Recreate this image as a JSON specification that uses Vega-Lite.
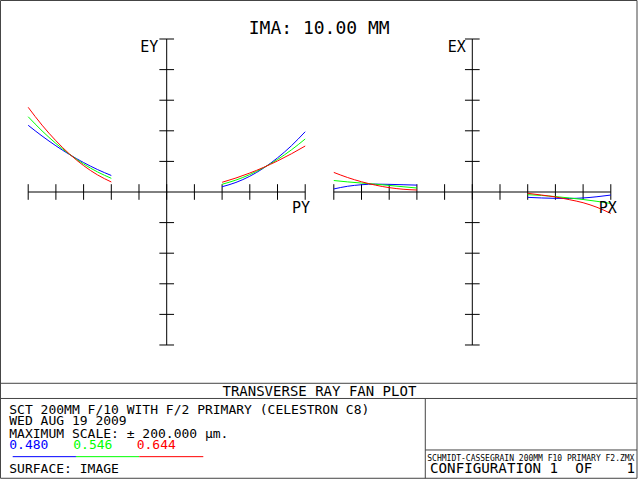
{
  "$schema": "https://vega.github.io/schema/vega-lite/v6.json",
  "width": 640,
  "height": 480,
  "padding": 0,
  "autosize": {"type": "none"},
  "background": "white",
  "config": {"view": {"stroke": null}},
  "datasets": {
    "fan": [
      {"panel": "EY", "seg": "L", "wl": "0.480", "p": -1.0, "e": 87.2},
      {"panel": "EY", "seg": "L", "wl": "0.480", "p": -0.9, "e": 73.2},
      {"panel": "EY", "seg": "L", "wl": "0.480", "p": -0.8, "e": 60.4},
      {"panel": "EY", "seg": "L", "wl": "0.480", "p": -0.7, "e": 48.8},
      {"panel": "EY", "seg": "L", "wl": "0.480", "p": -0.6, "e": 38.5},
      {"panel": "EY", "seg": "L", "wl": "0.480", "p": -0.5, "e": 29.4},
      {"panel": "EY", "seg": "L", "wl": "0.480", "p": -0.4, "e": 21.6},
      {"panel": "EY", "seg": "R", "wl": "0.480", "p": 0.4, "e": 6.9},
      {"panel": "EY", "seg": "R", "wl": "0.480", "p": 0.5, "e": 12.5},
      {"panel": "EY", "seg": "R", "wl": "0.480", "p": 0.6, "e": 20.6},
      {"panel": "EY", "seg": "R", "wl": "0.480", "p": 0.7, "e": 31.3},
      {"panel": "EY", "seg": "R", "wl": "0.480", "p": 0.8, "e": 44.6},
      {"panel": "EY", "seg": "R", "wl": "0.480", "p": 0.9, "e": 60.4},
      {"panel": "EY", "seg": "R", "wl": "0.480", "p": 1.0, "e": 78.8},
      {"panel": "EY", "seg": "L", "wl": "0.546", "p": -1.0, "e": 98.4},
      {"panel": "EY", "seg": "L", "wl": "0.546", "p": -0.9, "e": 79.9},
      {"panel": "EY", "seg": "L", "wl": "0.546", "p": -0.8, "e": 63.5},
      {"panel": "EY", "seg": "L", "wl": "0.546", "p": -0.7, "e": 49.1},
      {"panel": "EY", "seg": "L", "wl": "0.546", "p": -0.6, "e": 36.6},
      {"panel": "EY", "seg": "L", "wl": "0.546", "p": -0.5, "e": 26.3},
      {"panel": "EY", "seg": "L", "wl": "0.546", "p": -0.4, "e": 17.9},
      {"panel": "EY", "seg": "R", "wl": "0.546", "p": 0.4, "e": 10.1},
      {"panel": "EY", "seg": "R", "wl": "0.546", "p": 0.5, "e": 15.6},
      {"panel": "EY", "seg": "R", "wl": "0.546", "p": 0.6, "e": 22.8},
      {"panel": "EY", "seg": "R", "wl": "0.546", "p": 0.7, "e": 31.8},
      {"panel": "EY", "seg": "R", "wl": "0.546", "p": 0.8, "e": 42.5},
      {"panel": "EY", "seg": "R", "wl": "0.546", "p": 0.9, "e": 55.0},
      {"panel": "EY", "seg": "R", "wl": "0.546", "p": 1.0, "e": 69.3},
      {"panel": "EY", "seg": "L", "wl": "0.644", "p": -1.0, "e": 110.7},
      {"panel": "EY", "seg": "L", "wl": "0.644", "p": -0.9, "e": 87.4},
      {"panel": "EY", "seg": "L", "wl": "0.644", "p": -0.8, "e": 67.0},
      {"panel": "EY", "seg": "L", "wl": "0.644", "p": -0.7, "e": 49.3},
      {"panel": "EY", "seg": "L", "wl": "0.644", "p": -0.6, "e": 34.5},
      {"panel": "EY", "seg": "L", "wl": "0.644", "p": -0.5, "e": 22.4},
      {"panel": "EY", "seg": "L", "wl": "0.644", "p": -0.4, "e": 13.1},
      {"panel": "EY", "seg": "R", "wl": "0.644", "p": 0.4, "e": 12.7},
      {"panel": "EY", "seg": "R", "wl": "0.644", "p": 0.5, "e": 18.3},
      {"panel": "EY", "seg": "R", "wl": "0.644", "p": 0.6, "e": 24.8},
      {"panel": "EY", "seg": "R", "wl": "0.644", "p": 0.7, "e": 32.2},
      {"panel": "EY", "seg": "R", "wl": "0.644", "p": 0.8, "e": 40.6},
      {"panel": "EY", "seg": "R", "wl": "0.644", "p": 0.9, "e": 49.9},
      {"panel": "EY", "seg": "R", "wl": "0.644", "p": 1.0, "e": 60.1},
      {"panel": "EX", "seg": "L", "wl": "0.480", "p": -1.0, "e": 4.0},
      {"panel": "EX", "seg": "L", "wl": "0.480", "p": -0.9, "e": 7.5},
      {"panel": "EX", "seg": "L", "wl": "0.480", "p": -0.8, "e": 9.5},
      {"panel": "EX", "seg": "L", "wl": "0.480", "p": -0.7, "e": 10.3},
      {"panel": "EX", "seg": "L", "wl": "0.480", "p": -0.6, "e": 10.0},
      {"panel": "EX", "seg": "L", "wl": "0.480", "p": -0.5, "e": 9.5},
      {"panel": "EX", "seg": "L", "wl": "0.480", "p": -0.4, "e": 9.0},
      {"panel": "EX", "seg": "R", "wl": "0.480", "p": 0.4, "e": -7.0},
      {"panel": "EX", "seg": "R", "wl": "0.480", "p": 0.5, "e": -7.8},
      {"panel": "EX", "seg": "R", "wl": "0.480", "p": 0.6, "e": -8.3},
      {"panel": "EX", "seg": "R", "wl": "0.480", "p": 0.7, "e": -8.4},
      {"panel": "EX", "seg": "R", "wl": "0.480", "p": 0.8, "e": -7.8},
      {"panel": "EX", "seg": "R", "wl": "0.480", "p": 0.9, "e": -6.2},
      {"panel": "EX", "seg": "R", "wl": "0.480", "p": 1.0, "e": -4.0},
      {"panel": "EX", "seg": "L", "wl": "0.546", "p": -1.0, "e": 15.0},
      {"panel": "EX", "seg": "L", "wl": "0.546", "p": -0.9, "e": 13.2},
      {"panel": "EX", "seg": "L", "wl": "0.546", "p": -0.8, "e": 11.7},
      {"panel": "EX", "seg": "L", "wl": "0.546", "p": -0.7, "e": 10.2},
      {"panel": "EX", "seg": "L", "wl": "0.546", "p": -0.6, "e": 8.6},
      {"panel": "EX", "seg": "L", "wl": "0.546", "p": -0.5, "e": 6.9},
      {"panel": "EX", "seg": "L", "wl": "0.546", "p": -0.4, "e": 5.2},
      {"panel": "EX", "seg": "R", "wl": "0.546", "p": 0.4, "e": -3.5},
      {"panel": "EX", "seg": "R", "wl": "0.546", "p": 0.5, "e": -4.5},
      {"panel": "EX", "seg": "R", "wl": "0.546", "p": 0.6, "e": -6.0},
      {"panel": "EX", "seg": "R", "wl": "0.546", "p": 0.7, "e": -7.8},
      {"panel": "EX", "seg": "R", "wl": "0.546", "p": 0.8, "e": -9.8},
      {"panel": "EX", "seg": "R", "wl": "0.546", "p": 0.9, "e": -12.2},
      {"panel": "EX", "seg": "R", "wl": "0.546", "p": 1.0, "e": -15.0},
      {"panel": "EX", "seg": "L", "wl": "0.644", "p": -1.0, "e": 25.6},
      {"panel": "EX", "seg": "L", "wl": "0.644", "p": -0.9, "e": 18.9},
      {"panel": "EX", "seg": "L", "wl": "0.644", "p": -0.8, "e": 13.4},
      {"panel": "EX", "seg": "L", "wl": "0.644", "p": -0.7, "e": 9.0},
      {"panel": "EX", "seg": "L", "wl": "0.644", "p": -0.6, "e": 5.7},
      {"panel": "EX", "seg": "L", "wl": "0.644", "p": -0.5, "e": 3.6},
      {"panel": "EX", "seg": "L", "wl": "0.644", "p": -0.4, "e": 2.6},
      {"panel": "EX", "seg": "R", "wl": "0.644", "p": 0.4, "e": -1.7},
      {"panel": "EX", "seg": "R", "wl": "0.644", "p": 0.5, "e": -4.0},
      {"panel": "EX", "seg": "R", "wl": "0.644", "p": 0.6, "e": -6.5},
      {"panel": "EX", "seg": "R", "wl": "0.644", "p": 0.7, "e": -10.0},
      {"panel": "EX", "seg": "R", "wl": "0.644", "p": 0.8, "e": -14.0},
      {"panel": "EX", "seg": "R", "wl": "0.644", "p": 0.9, "e": -20.0},
      {"panel": "EX", "seg": "R", "wl": "0.644", "p": 1.0, "e": -28.0}
    ],
    "hticks": [
      {"t": -1.0}, {"t": -0.8}, {"t": -0.6}, {"t": -0.4}, {"t": -0.2}, {"t": 0.0},
      {"t": 0.2}, {"t": 0.4}, {"t": 0.6}, {"t": 0.8}, {"t": 1.0}
    ],
    "vticks": [
      {"v": -200}, {"v": -160}, {"v": -120}, {"v": -80}, {"v": -40},
      {"v": 40}, {"v": 80}, {"v": 120}, {"v": 160}, {"v": 200}
    ]
  },
  "resolve": {"scale": {"x": "independent"}},
  "layer": [
    {
      "data": {"values": [{}]},
      "mark": {"type": "rect", "fill": "white", "fillOpacity": 0, "stroke": "#444444", "strokeWidth": 1},
      "encoding": {
        "x": {"datum": -1.2, "type": "quantitative", "scale": {"domain": [-1.2036, 3.4173], "nice": false, "zero": false}, "axis": null},
        "x2": {"datum": 3.3957},
        "y": {"datum": 250.33, "type": "quantitative", "scale": {"domain": [-376.5, 251], "nice": false, "zero": false}, "axis": null},
        "y2": {"datum": -374.25}
      }
    },
    {
      "data": {"values": [{}]},
      "mark": {"type": "rule", "color": "#444444", "strokeWidth": 1},
      "encoding": {
        "x": {"datum": -1.2, "type": "quantitative", "scale": {"domain": [-1.2036, 3.4173], "nice": false, "zero": false}, "axis": null},
        "x2": {"datum": 3.3957},
        "y": {"datum": -250.07, "type": "quantitative", "scale": {"domain": [-376.5, 251], "nice": false, "zero": false}, "axis": null}
      }
    },
    {
      "data": {"values": [{}]},
      "mark": {"type": "rule", "color": "#444444", "strokeWidth": 1},
      "encoding": {
        "x": {"datum": -1.2, "type": "quantitative", "scale": {"domain": [-1.2036, 3.4173], "nice": false, "zero": false}, "axis": null},
        "x2": {"datum": 3.3957},
        "y": {"datum": -269.93, "type": "quantitative", "scale": {"domain": [-376.5, 251], "nice": false, "zero": false}, "axis": null}
      }
    },
    {
      "data": {"values": [{}]},
      "mark": {"type": "rule", "color": "#444444", "strokeWidth": 1},
      "encoding": {
        "x": {"datum": 1.8671, "type": "quantitative", "scale": {"domain": [-1.2036, 3.4173], "nice": false, "zero": false}, "axis": null},
        "y": {"datum": -269.93, "type": "quantitative", "scale": {"domain": [-376.5, 251], "nice": false, "zero": false}, "axis": null},
        "y2": {"datum": -374.25}
      }
    },
    {
      "data": {"values": [{}]},
      "mark": {"type": "rule", "color": "#444444", "strokeWidth": 1},
      "encoding": {
        "x": {"datum": 1.8671, "type": "quantitative", "scale": {"domain": [-1.2036, 3.4173], "nice": false, "zero": false}, "axis": null},
        "x2": {"datum": 3.3957},
        "y": {"datum": -337.25, "type": "quantitative", "scale": {"domain": [-376.5, 251], "nice": false, "zero": false}, "axis": null}
      }
    },
    {
      "data": {"values": [{}]},
      "mark": {"type": "rule", "color": "black", "strokeWidth": 1},
      "encoding": {
        "x": {"datum": -1, "type": "quantitative", "scale": {"domain": [-1.2036, 3.4173], "nice": false, "zero": false}, "axis": null},
        "x2": {"datum": 1},
        "y": {"datum": 0, "type": "quantitative", "scale": {"domain": [-376.5, 251], "nice": false, "zero": false}, "axis": null}
      }
    },
    {
      "data": {"values": [{}]},
      "mark": {"type": "rule", "color": "black", "strokeWidth": 1},
      "encoding": {
        "x": {"datum": 0, "type": "quantitative", "scale": {"domain": [-1.2036, 3.4173], "nice": false, "zero": false}, "axis": null},
        "y": {"datum": -200, "type": "quantitative", "scale": {"domain": [-376.5, 251], "nice": false, "zero": false}, "axis": null},
        "y2": {"datum": 200}
      }
    },
    {
      "data": {"name": "hticks"},
      "mark": {"type": "rule", "color": "black", "strokeWidth": 1},
      "encoding": {
        "x": {"field": "t", "type": "quantitative", "scale": {"domain": [-1.2036, 3.4173], "nice": false, "zero": false}, "axis": null},
        "y": {"datum": -10.2, "type": "quantitative", "scale": {"domain": [-376.5, 251], "nice": false, "zero": false}, "axis": null},
        "y2": {"datum": 10.2}
      }
    },
    {
      "data": {"name": "vticks"},
      "mark": {"type": "rule", "color": "black", "strokeWidth": 1},
      "encoding": {
        "x": {"datum": -0.053, "type": "quantitative", "scale": {"domain": [-1.2036, 3.4173], "nice": false, "zero": false}, "axis": null},
        "x2": {"datum": 0.053},
        "y": {"field": "v", "type": "quantitative", "scale": {"domain": [-376.5, 251], "nice": false, "zero": false}, "axis": null}
      }
    },
    {
      "data": {"values": [{}]},
      "mark": {"type": "rule", "color": "black", "strokeWidth": 1},
      "encoding": {
        "x": {"datum": -1, "type": "quantitative", "scale": {"domain": [-3.4101, 1.2108], "nice": false, "zero": false}, "axis": null},
        "x2": {"datum": 1},
        "y": {"datum": 0, "type": "quantitative", "scale": {"domain": [-376.5, 251], "nice": false, "zero": false}, "axis": null}
      }
    },
    {
      "data": {"values": [{}]},
      "mark": {"type": "rule", "color": "black", "strokeWidth": 1},
      "encoding": {
        "x": {"datum": 0, "type": "quantitative", "scale": {"domain": [-3.4101, 1.2108], "nice": false, "zero": false}, "axis": null},
        "y": {"datum": -200, "type": "quantitative", "scale": {"domain": [-376.5, 251], "nice": false, "zero": false}, "axis": null},
        "y2": {"datum": 200}
      }
    },
    {
      "data": {"name": "hticks"},
      "mark": {"type": "rule", "color": "black", "strokeWidth": 1},
      "encoding": {
        "x": {"field": "t", "type": "quantitative", "scale": {"domain": [-3.4101, 1.2108], "nice": false, "zero": false}, "axis": null},
        "y": {"datum": -10.2, "type": "quantitative", "scale": {"domain": [-376.5, 251], "nice": false, "zero": false}, "axis": null},
        "y2": {"datum": 10.2}
      }
    },
    {
      "data": {"name": "vticks"},
      "mark": {"type": "rule", "color": "black", "strokeWidth": 1},
      "encoding": {
        "x": {"datum": -0.053, "type": "quantitative", "scale": {"domain": [-3.4101, 1.2108], "nice": false, "zero": false}, "axis": null},
        "x2": {"datum": 0.053},
        "y": {"field": "v", "type": "quantitative", "scale": {"domain": [-376.5, 251], "nice": false, "zero": false}, "axis": null}
      }
    },
    {
      "data": {"name": "fan"},
      "transform": [{"filter": "datum.panel === 'EY'"}],
      "mark": {"type": "line", "strokeWidth": 1, "interpolate": "monotone"},
      "encoding": {
        "x": {"field": "p", "type": "quantitative", "scale": {"domain": [-1.2036, 3.4173], "nice": false, "zero": false}, "axis": null},
        "y": {"field": "e", "type": "quantitative", "scale": {"domain": [-376.5, 251], "nice": false, "zero": false}, "axis": null},
        "color": {"field": "wl", "type": "nominal", "scale": {"domain": ["0.480", "0.546", "0.644"], "range": ["#0000ff", "#00ff00", "#ff0000"]}, "legend": null},
        "detail": {"field": "seg"},
        "order": {"field": "p", "type": "quantitative"}
      }
    },
    {
      "data": {"name": "fan"},
      "transform": [{"filter": "datum.panel === 'EX'"}],
      "mark": {"type": "line", "strokeWidth": 1, "interpolate": "monotone"},
      "encoding": {
        "x": {"field": "p", "type": "quantitative", "scale": {"domain": [-3.4101, 1.2108], "nice": false, "zero": false}, "axis": null},
        "y": {"field": "e", "type": "quantitative", "scale": {"domain": [-376.5, 251], "nice": false, "zero": false}, "axis": null},
        "color": {"field": "wl", "type": "nominal", "scale": {"domain": ["0.480", "0.546", "0.644"], "range": ["#0000ff", "#00ff00", "#ff0000"]}, "legend": null},
        "detail": {"field": "seg"},
        "order": {"field": "p", "type": "quantitative"}
      }
    },
    {
      "data": {"values": [{"s": "IMA: 10.00 MM"}]},
      "mark": {"type": "text", "font": "DejaVu Sans Mono", "fontSize": 18, "align": "center", "baseline": "alphabetic", "color": "black"},
      "encoding": {
        "x": {"datum": 1.1011, "type": "quantitative", "scale": {"domain": [-1.2036, 3.4173], "nice": false, "zero": false}, "axis": null},
        "y": {"datum": 206.54, "type": "quantitative", "scale": {"domain": [-376.5, 251], "nice": false, "zero": false}, "axis": null},
        "text": {"field": "s"}
      }
    },
    {
      "data": {"values": [{"s": "EY"}]},
      "mark": {"type": "text", "font": "DejaVu Sans Mono", "fontSize": 15, "align": "right", "baseline": "alphabetic", "color": "black"},
      "encoding": {
        "x": {"datum": -0.0606, "type": "quantitative", "scale": {"domain": [-1.2036, 3.4173], "nice": false, "zero": false}, "axis": null},
        "y": {"datum": 183.4, "type": "quantitative", "scale": {"domain": [-376.5, 251], "nice": false, "zero": false}, "axis": null},
        "text": {"field": "s"}
      }
    },
    {
      "data": {"values": [{"s": "PY"}]},
      "mark": {"type": "text", "font": "DejaVu Sans Mono", "fontSize": 15, "align": "right", "baseline": "alphabetic", "color": "black"},
      "encoding": {
        "x": {"datum": 1.0347, "type": "quantitative", "scale": {"domain": [-1.2036, 3.4173], "nice": false, "zero": false}, "axis": null},
        "y": {"datum": -27.84, "type": "quantitative", "scale": {"domain": [-376.5, 251], "nice": false, "zero": false}, "axis": null},
        "text": {"field": "s"}
      }
    },
    {
      "data": {"values": [{"s": "EX"}]},
      "mark": {"type": "text", "font": "DejaVu Sans Mono", "fontSize": 15, "align": "right", "baseline": "alphabetic", "color": "black"},
      "encoding": {
        "x": {"datum": -0.0477, "type": "quantitative", "scale": {"domain": [-3.4101, 1.2108], "nice": false, "zero": false}, "axis": null},
        "y": {"datum": 183.4, "type": "quantitative", "scale": {"domain": [-376.5, 251], "nice": false, "zero": false}, "axis": null},
        "text": {"field": "s"}
      }
    },
    {
      "data": {"values": [{"s": "PX"}]},
      "mark": {"type": "text", "font": "DejaVu Sans Mono", "fontSize": 15, "align": "right", "baseline": "alphabetic", "color": "black"},
      "encoding": {
        "x": {"datum": 1.0426, "type": "quantitative", "scale": {"domain": [-3.4101, 1.2108], "nice": false, "zero": false}, "axis": null},
        "y": {"datum": -27.84, "type": "quantitative", "scale": {"domain": [-376.5, 251], "nice": false, "zero": false}, "axis": null},
        "text": {"field": "s"}
      }
    },
    {
      "data": {"values": [{"s": "TRANSVERSE RAY FAN PLOT"}]},
      "mark": {"type": "text", "font": "DejaVu Sans Mono", "fontSize": 14, "align": "center", "baseline": "alphabetic", "color": "black"},
      "encoding": {
        "x": {"datum": 1.1025, "type": "quantitative", "scale": {"domain": [-1.2036, 3.4173], "nice": false, "zero": false}, "axis": null},
        "y": {"datum": -266.67, "type": "quantitative", "scale": {"domain": [-376.5, 251], "nice": false, "zero": false}, "axis": null},
        "text": {"field": "s"}
      }
    },
    {
      "data": {"values": [{"s": "SCT 200MM F/10 WITH F/2 PRIMARY (CELESTRON C8)"}]},
      "mark": {"type": "text", "font": "DejaVu Sans Mono", "fontSize": 13, "align": "left", "baseline": "alphabetic", "color": "black"},
      "encoding": {
        "x": {"datum": -1.1365, "type": "quantitative", "scale": {"domain": [-1.2036, 3.4173], "nice": false, "zero": false}, "axis": null},
        "y": {"datum": -290.2, "type": "quantitative", "scale": {"domain": [-376.5, 251], "nice": false, "zero": false}, "axis": null},
        "text": {"field": "s"}
      }
    },
    {
      "data": {"values": [{"s": "WED AUG 19 2009"}]},
      "mark": {"type": "text", "font": "DejaVu Sans Mono", "fontSize": 13, "align": "left", "baseline": "alphabetic", "color": "black"},
      "encoding": {
        "x": {"datum": -1.1365, "type": "quantitative", "scale": {"domain": [-1.2036, 3.4173], "nice": false, "zero": false}, "axis": null},
        "y": {"datum": -304.97, "type": "quantitative", "scale": {"domain": [-376.5, 251], "nice": false, "zero": false}, "axis": null},
        "text": {"field": "s"}
      }
    },
    {
      "data": {"values": [{"s": "MAXIMUM SCALE: ± 200.000 µm."}]},
      "mark": {"type": "text", "font": "DejaVu Sans Mono", "fontSize": 13, "align": "left", "baseline": "alphabetic", "color": "black"},
      "encoding": {
        "x": {"datum": -1.1365, "type": "quantitative", "scale": {"domain": [-1.2036, 3.4173], "nice": false, "zero": false}, "axis": null},
        "y": {"datum": -321.57, "type": "quantitative", "scale": {"domain": [-376.5, 251], "nice": false, "zero": false}, "axis": null},
        "text": {"field": "s"}
      }
    },
    {
      "data": {"values": [{"s": "0.480"}]},
      "mark": {"type": "text", "font": "DejaVu Sans Mono", "fontSize": 13, "align": "left", "baseline": "alphabetic", "color": "#0000ff"},
      "encoding": {
        "x": {"datum": -1.1365, "type": "quantitative", "scale": {"domain": [-1.2036, 3.4173], "nice": false, "zero": false}, "axis": null},
        "y": {"datum": -336.3, "type": "quantitative", "scale": {"domain": [-376.5, 251], "nice": false, "zero": false}, "axis": null},
        "text": {"field": "s"}
      }
    },
    {
      "data": {"values": [{"s": "0.546"}]},
      "mark": {"type": "text", "font": "DejaVu Sans Mono", "fontSize": 13, "align": "left", "baseline": "alphabetic", "color": "#00ff00"},
      "encoding": {
        "x": {"datum": -0.6744, "type": "quantitative", "scale": {"domain": [-1.2036, 3.4173], "nice": false, "zero": false}, "axis": null},
        "y": {"datum": -336.3, "type": "quantitative", "scale": {"domain": [-376.5, 251], "nice": false, "zero": false}, "axis": null},
        "text": {"field": "s"}
      }
    },
    {
      "data": {"values": [{"s": "0.644"}]},
      "mark": {"type": "text", "font": "DejaVu Sans Mono", "fontSize": 13, "align": "left", "baseline": "alphabetic", "color": "#ff0000"},
      "encoding": {
        "x": {"datum": -0.2166, "type": "quantitative", "scale": {"domain": [-1.2036, 3.4173], "nice": false, "zero": false}, "axis": null},
        "y": {"datum": -336.3, "type": "quantitative", "scale": {"domain": [-376.5, 251], "nice": false, "zero": false}, "axis": null},
        "text": {"field": "s"}
      }
    },
    {
      "data": {"values": [{}]},
      "mark": {"type": "rule", "color": "#0000ff", "strokeWidth": 1},
      "encoding": {
        "x": {"datum": -1.1119, "type": "quantitative", "scale": {"domain": [-1.2036, 3.4173], "nice": false, "zero": false}, "axis": null},
        "x2": {"datum": -0.6549},
        "y": {"datum": -346.0, "type": "quantitative", "scale": {"domain": [-376.5, 251], "nice": false, "zero": false}, "axis": null}
      }
    },
    {
      "data": {"values": [{}]},
      "mark": {"type": "rule", "color": "#00ff00", "strokeWidth": 1},
      "encoding": {
        "x": {"datum": -0.6549, "type": "quantitative", "scale": {"domain": [-1.2036, 3.4173], "nice": false, "zero": false}, "axis": null},
        "x2": {"datum": -0.1978},
        "y": {"datum": -346.0, "type": "quantitative", "scale": {"domain": [-376.5, 251], "nice": false, "zero": false}, "axis": null}
      }
    },
    {
      "data": {"values": [{}]},
      "mark": {"type": "rule", "color": "#ff0000", "strokeWidth": 1},
      "encoding": {
        "x": {"datum": -0.1978, "type": "quantitative", "scale": {"domain": [-1.2036, 3.4173], "nice": false, "zero": false}, "axis": null},
        "x2": {"datum": 0.2643},
        "y": {"datum": -346.0, "type": "quantitative", "scale": {"domain": [-376.5, 251], "nice": false, "zero": false}, "axis": null}
      }
    },
    {
      "data": {"values": [{"s": "SURFACE: IMAGE"}]},
      "mark": {"type": "text", "font": "DejaVu Sans Mono", "fontSize": 13, "align": "left", "baseline": "alphabetic", "color": "black"},
      "encoding": {
        "x": {"datum": -1.1365, "type": "quantitative", "scale": {"domain": [-1.2036, 3.4173], "nice": false, "zero": false}, "axis": null},
        "y": {"datum": -368.0, "type": "quantitative", "scale": {"domain": [-376.5, 251], "nice": false, "zero": false}, "axis": null},
        "text": {"field": "s"}
      }
    },
    {
      "data": {"values": [{"s": "SCHMIDT-CASSEGRAIN 200MM F10 PRIMARY F2.ZMX"}]},
      "mark": {"type": "text", "font": "DejaVu Sans Mono", "fontSize": 8, "align": "left", "baseline": "alphabetic", "color": "black"},
      "encoding": {
        "x": {"datum": 1.8816, "type": "quantitative", "scale": {"domain": [-1.2036, 3.4173], "nice": false, "zero": false}, "axis": null},
        "y": {"datum": -351.6, "type": "quantitative", "scale": {"domain": [-376.5, 251], "nice": false, "zero": false}, "axis": null},
        "text": {"field": "s"}
      }
    },
    {
      "data": {"values": [{"s": "CONFIGURATION 1\u00a0\u00a0OF\u00a0\u00a0\u00a0\u00a01"}]},
      "mark": {"type": "text", "font": "DejaVu Sans Mono", "fontSize": 14.2, "align": "left", "baseline": "alphabetic", "color": "black"},
      "encoding": {
        "x": {"datum": 1.9011, "type": "quantitative", "scale": {"domain": [-1.2036, 3.4173], "nice": false, "zero": false}, "axis": null},
        "y": {"datum": -367.7, "type": "quantitative", "scale": {"domain": [-376.5, 251], "nice": false, "zero": false}, "axis": null},
        "text": {"field": "s"}
      }
    }
  ]
}
